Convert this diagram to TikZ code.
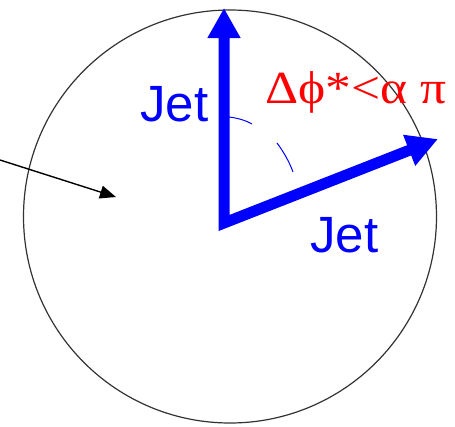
\documentclass[tikz,border=0pt]{standalone}
\usepackage{fontspec}
\setmainfont{Liberation Sans}
\newfontfamily\greekserif[FakeStretch=1.12]{Liberation Serif}
\usetikzlibrary{arrows.meta}
\definecolor{jetblue}{RGB}{0,0,255}
\definecolor{labred}{RGB}{255,0,0}
\tikzset{
  jetarrow/.style={draw=jetblue, line width=11pt, line join=miter,
    {Triangle[length=30pt,width=31pt]}-{Triangle[length=31pt,width=31pt]}},
  jetlabel/.style={text=jetblue, font=\fontsize{51}{51}\selectfont, inner sep=0pt},
  anglemark/.style={draw=jetblue, line width=1pt},
  pointer/.style={draw=black, line width=1.4pt, -{Triangle[length=16pt,width=13pt]}}
}
\begin{document}
\begin{tikzpicture}[x=1pt,y=-1pt]
\useasboundingbox[fill=white] (0,0) rectangle (455,426);
\node[draw=black!80, line width=1.2pt, circle, minimum size=413pt, inner sep=0pt] (ring) at (230,216.5) {};
\coordinate (O) at (224,223);
\coordinate (up) at (224,8);
\coordinate (rt) at (438,139);
\draw[jetarrow] (up) -- (O) -- (rt);
\draw[anglemark] (229,117) .. controls (237,118) and (245,120) .. (252,124);
\draw[anglemark] (277,143) .. controls (283,151) and (289,161) .. (293,172);
\coordinate (src) at (0,160);
\coordinate (dst) at (116,197);
\draw[pointer] (src) -- (dst);
\node[jetlabel, anchor=base west] (jet1) at (140,121) {Jet};
\node[jetlabel, anchor=base west] (jet2) at (310,252) {Jet};
\node[text=labred, inner sep=0pt, anchor=base west, font=\greekserif\fontsize{46}{46}\selectfont] (dphi) at (265,103) {Δϕ*<α π};
\end{tikzpicture}
\end{document}
